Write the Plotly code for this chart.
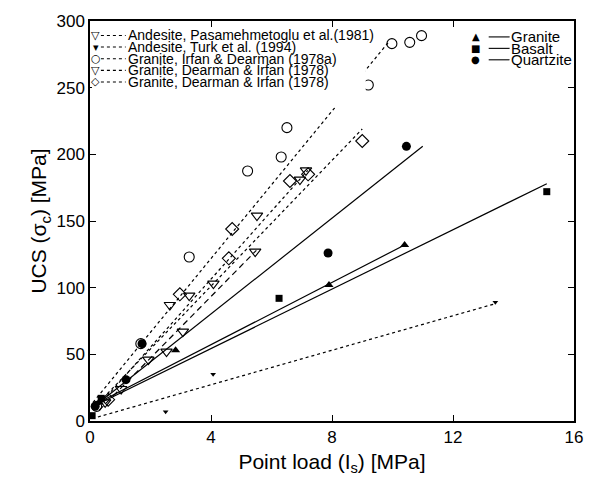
import plotly.graph_objects as go

# ---- measured points: literature data (open symbols) ----
pas_x = [0.5, 1.03, 1.93, 2.53, 3.07, 5.46]          # Andesite, Pasamehmetoglu et al. (1981)
pas_y = [14, 24, 46, 52, 67, 127]
turk_x = [2.5, 4.07, 13.4]                            # Andesite, Turk et al. (1994)
turk_y = [7, 35, 89]
irf_x = [0.22, 1.68, 3.28, 5.21, 6.32, 6.51, 9.2, 9.98, 10.57, 10.96]   # Granite, Irfan & Dearman (1978a)
irf_y = [11, 58, 123, 187.5, 198, 220, 252, 283, 284, 289]
dtri_x = [2.64, 3.28, 4.08, 5.52, 6.94, 7.14]         # Granite, Dearman & Irfan (1978), triangles
dtri_y = [87, 94, 103, 154, 181, 188]
ddia_x = [0.6, 2.97, 4.59, 4.7, 6.61, 7.21, 9.0]      # Granite, Dearman & Irfan (1978), diamonds
ddia_y = [16, 95, 122, 144, 180, 185, 210]

# ---- own data (filled symbols) ----
gran_x = [0.3, 2.83, 7.9, 10.4]
gran_y = [14, 53, 102, 132]
bas_x = [0.07, 0.37, 6.25, 15.1]
bas_y = [4, 17, 92, 172]
qtz_x = [0.17, 1.19, 1.72, 7.87, 10.46]
qtz_y = [11, 31, 58, 126, 206]

# ---- fitted lines (end points) ----
fit_pas_x, fit_pas_y = [0.3, 5.5], [8, 128]
fit_turk_x, fit_turk_y = [0.26, 13.4], [3, 88]
fit_irf_x, fit_irf_y = [0.1, 9.9], [14, 285]
fit_dtri_x, fit_dtri_y = [0.3, 7.2], [12, 188]
fit_ddia_x, fit_ddia_y = [0.3, 9.0], [14, 219]
fit_gran_x, fit_gran_y = [0.3, 10.4], [14, 132]
fit_bas_x, fit_bas_y = [0.2, 15.1], [12, 178]
fit_qtz_x, fit_qtz_y = [0.2, 11.0], [12, 206]

x_ticks = [0, 4, 8, 12, 16]
y_ticks = [0, 50, 100, 150, 200, 250, 300]

DOT = "3px,3px"
DASH = "6px,4px"
K = "black"

fig = go.Figure()


def add_line(xs, ys, dash):
    fig.add_trace(go.Scatter(x=xs, y=ys, mode="lines", showlegend=False,
                             line=dict(color=K, width=1.2, dash=dash), hoverinfo="skip"))


def add_pts(xs, ys, symbol, size, lw=1.1):
    fig.add_trace(go.Scatter(x=xs, y=ys, mode="markers", showlegend=False,
                             marker=dict(symbol=symbol, size=size, color=K,
                                         line=dict(color=K, width=lw))))


add_line(fit_pas_x, fit_pas_y, DASH)
add_line(fit_turk_x, fit_turk_y, DOT)
add_line(fit_irf_x, fit_irf_y, DOT)
add_line(fit_dtri_x, fit_dtri_y, DOT)
add_line(fit_ddia_x, fit_ddia_y, DOT)
add_line(fit_gran_x, fit_gran_y, "solid")
add_line(fit_bas_x, fit_bas_y, "solid")
add_line(fit_qtz_x, fit_qtz_y, "solid")

add_pts(pas_x, pas_y, "triangle-down-open", 10)
add_pts(turk_x, turk_y, "triangle-down", 5, 0)
add_pts(irf_x, irf_y, "circle-open", 10)
add_pts(dtri_x, dtri_y, "triangle-down-open", 10)
add_pts(ddia_x, ddia_y, "diamond-open", 10)
add_pts(gran_x, gran_y, "triangle-up", 8, 0)
add_pts(bas_x, bas_y, "square", 7, 0)
add_pts(qtz_x, qtz_y, "circle", 9, 0)

# ---- legends drawn in paper coordinates ----
L, T = 90, 19
W, H = 488, 402


def px(x):
    return (x - L) / W


def py(y):
    return (T + H - y) / H


shapes = [dict(type="rect", xref="paper", yref="paper", x0=px(92), x1=px(368),
               y0=py(106), y1=py(25), fillcolor="white", line=dict(width=0), layer="above")]
annotations = []

left_entries = [("▽", "Andesite, Pasamehmetoglu et al.(1981)", 11),
                ("▾", "Andesite, Turk et al. (1994)", 11),
                ("○", "Granite, Irfan & Dearman (1978a)", 11),
                ("▽", "Granite, Dearman & Irfan (1978)", 11),
                ("◇", "Granite, Dearman & Irfan (1978)", 11)]
rows = [33.5, 45.2, 56.9, 68.6, 80.3]
for (sym, label, ssz), r in zip(left_entries, rows):
    annotations.append(dict(xref="paper", yref="paper", x=px(96), y=py(r), text=sym,
                            xanchor="center", yanchor="middle", showarrow=False,
                            font=dict(size=ssz, color=K, family="DejaVu Sans")))
    shapes.append(dict(type="line", xref="paper", yref="paper", x0=px(101), x1=px(126),
                       y0=py(r), y1=py(r), line=dict(color=K, width=1.1, dash="3px,3px"),
                       layer="above"))
    annotations.append(dict(xref="paper", yref="paper", x=px(126), y=py(r), text=label,
                            xanchor="left", yanchor="middle", showarrow=False,
                            font=dict(size=14, color=K, family="Liberation Sans")))

right_entries = [("▲", "Granite"), ("■", "Basalt"), ("●", "Quartzite")]
rows_r = [35, 46.5, 58]
for (sym, label), r in zip(right_entries, rows_r):
    annotations.append(dict(xref="paper", yref="paper", x=px(479), y=py(r), text=sym,
                            xanchor="center", yanchor="middle", showarrow=False,
                            font=dict(size=10, color=K, family="DejaVu Sans")))
    shapes.append(dict(type="line", xref="paper", yref="paper", x0=px(492), x1=px(513),
                       y0=py(r), y1=py(r), line=dict(color=K, width=1.1), layer="above"))
    annotations.append(dict(xref="paper", yref="paper", x=px(512), y=py(r), text=label,
                            xanchor="left", yanchor="middle", showarrow=False,
                            font=dict(size=15, color=K, family="Liberation Sans")))

axis_common = dict(showline=True, linecolor=K, linewidth=1.5, mirror="ticks",
                   ticks="inside", ticklen=6, tickwidth=1.2, tickcolor=K,
                   showgrid=False, zeroline=False,
                   tickfont=dict(size=17, color=K, family="Liberation Sans"))

fig.update_layout(
    width=595, height=485,
    margin=dict(l=L, r=595 - L - W, t=T, b=485 - T - H),
    paper_bgcolor="white", plot_bgcolor="white",
    font=dict(family="Liberation Sans", color=K),
    xaxis=dict(range=[0, 16], tickvals=x_ticks,
               title=dict(text="Point load (I<sub>s</sub>) [MPa]", standoff=8,
                          font=dict(size=21, color=K)), **axis_common),
    yaxis=dict(range=[0, 300], tickvals=y_ticks,
               title=dict(text="UCS (σ<sub>c</sub>) [MPa]", standoff=4,
                          font=dict(size=21, color=K)), **axis_common),
    shapes=shapes, annotations=annotations, showlegend=False,
)

fig.write_html("out.html")
